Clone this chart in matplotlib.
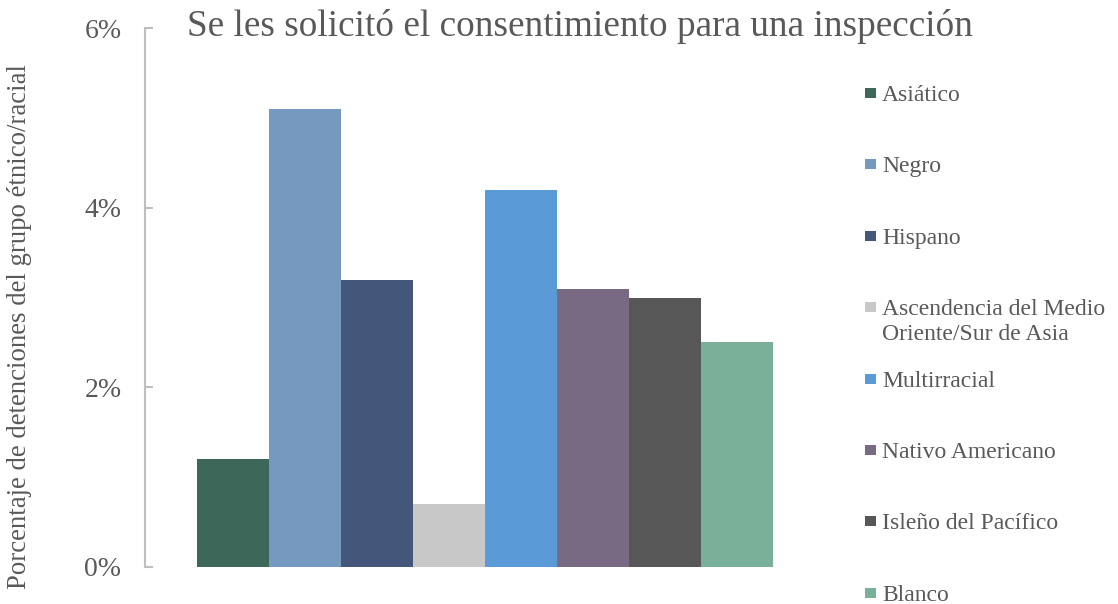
import matplotlib
matplotlib.use("Agg")
import matplotlib.pyplot as plt
from matplotlib.patches import Rectangle
from matplotlib.ticker import FuncFormatter

plt.rcParams['font.family'] = ['Liberation Serif', 'DejaVu Serif']

groups = ['Asiático', 'Negro', 'Hispano', 'Ascendencia del Medio\nOriente/Sur de Asia',
          'Multirracial', 'Nativo Americano', 'Isleño del Pacífico', 'Blanco']
values = [1.2, 5.1, 3.2, 0.7, 4.2, 3.1, 3.0, 2.5]
colors = ['#3d6758', '#7699c0', '#44577b', '#c8c8c8',
          '#5a9ad6', '#786a83', '#575757', '#7aaf9a']
yticks = [0, 2, 4, 6]

W, H = 1118, 604
fig = plt.figure(figsize=(W / 100, H / 100), dpi=100)
ax = fig.add_axes([145 / W, 1 - 567 / H, (825 - 145) / W, (567 - 28) / H])

gap = 52 / 72
for i, (v, c) in enumerate(zip(values, colors)):
    ax.bar(i, v, width=1.0, color=c, edgecolor='none')

ax.set_xlim(-0.5 - gap, len(values) - 0.5 + gap)
ax.set_ylim(0, 6)
ax.set_yticks(yticks)
ax.yaxis.set_major_formatter(FuncFormatter(lambda v, p: f'{v:.0f}%'))
ax.set_xticks([])

for s in ['top', 'right', 'bottom']:
    ax.spines[s].set_visible(False)
ax.spines['left'].set_color('#bfbfbf')
ax.spines['left'].set_linewidth(1.5)
ax.tick_params(axis='y', direction='in', length=6, width=1.5, color='#bfbfbf',
               labelsize=20, labelcolor='#595959', pad=17)

fig.text(20 / W, 1 - 327 / H, 'Porcentaje de detenciones del grupo étnico/racial',
         rotation=90, ha='center', va='center', fontsize=19.3, color='#595959')

fig.text(580 / W, 1 - 27 / H, 'Se les solicitó el consentimiento para una inspección',
         ha='center', va='center', fontsize=26.8, color='#595959')

# legend, one entry every ~71.4 px
for i, (g, c) in enumerate(zip(groups, colors)):
    yc = 93 + 71.4 * i
    fig.add_artist(Rectangle((865 / W, 1 - (yc + 5) / H), 11 / W, 10 / H,
                             transform=fig.transFigure, facecolor=c, edgecolor='none'))
    fig.text(882 / W, 1 - (yc - 8) / H, g, ha='left', va='top',
             fontsize=17, color='#595959', linespacing=1.25)

fig.savefig('out.png', dpi=100)
